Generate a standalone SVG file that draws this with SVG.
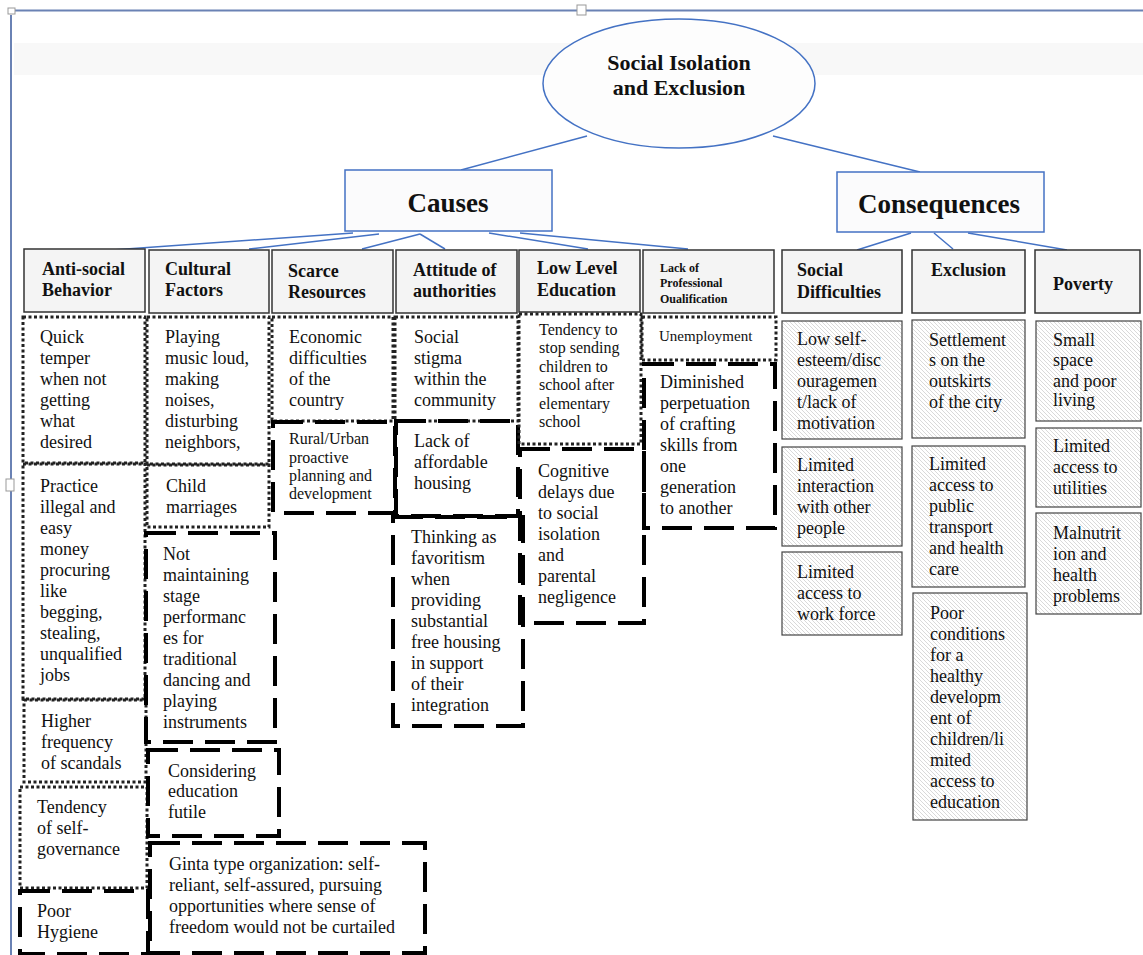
<svg xmlns="http://www.w3.org/2000/svg" width="1143" height="955" viewBox="0 0 1143 955">
<defs>
<pattern id="hatch" width="4" height="4" patternUnits="userSpaceOnUse">
<rect width="4" height="4" fill="#fff"/>
<path d="M-1,-1 L5,5 M-1,3 L1,5 M3,-1 L5,1" stroke="#c8c8c8" stroke-width="0.7"/>
</pattern>
<style>
.t{font-family:"Liberation Serif","Times New Roman",serif;font-size:18px;fill:#111}
.b{font-weight:bold}
.f12{font-size:12px}
.f15{font-size:15px}
.f16{font-size:16px}
.f22{font-size:22px}
.f27{font-size:27px}
.hdr{fill:#f4f4f4;stroke:#333;stroke-width:1.5}
.blue{fill:#fbfbfc;stroke:#4472c4;stroke-width:1.5}
.dot{fill:none;stroke:#222;stroke-width:3;stroke-dasharray:3 2.5}
.dash{fill:none;stroke:#000;stroke-width:4;stroke-dasharray:30 12}
.hat{fill:url(#hatch);stroke:#444;stroke-width:1.2}
.con{stroke:#4472c4;stroke-width:1.5;fill:none}
.frame{stroke:#6a82b4;stroke-width:2;fill:none}
.handle{fill:#fff;stroke:#999;stroke-width:1}
</style>
</defs>
<rect width="1143" height="955" fill="#fff"/>
<g id="page">
<rect x="14" y="43" width="1129" height="32" fill="#f8f8f8"/>
<path class="frame" d="M15,10.5 H1143 M11,15 V955"/>
<rect class="handle" x="8" y="8" width="7" height="6"/>
<rect class="handle" x="577" y="5" width="9" height="10"/>
<rect class="handle" x="6" y="479" width="8" height="12"/>
</g>
<g id="connectors">
<line class="con" x1="587" y1="136" x2="461" y2="170"/>
<line class="con" x1="773" y1="136" x2="920" y2="172"/>
<line class="con" x1="353" y1="233" x2="112" y2="250"/>
<line class="con" x1="379" y1="234" x2="249" y2="249"/>
<line class="con" x1="420" y1="234" x2="362" y2="249"/>
<line class="con" x1="420" y1="234" x2="445" y2="249"/>
<line class="con" x1="489" y1="233" x2="588" y2="249"/>
<line class="con" x1="520" y1="233" x2="688" y2="249"/>
<line class="con" x1="911" y1="233" x2="857" y2="250"/>
<line class="con" x1="934" y1="233" x2="953" y2="249"/>
<line class="con" x1="968" y1="233" x2="1067" y2="250"/>
</g>
<g id="root">
<ellipse cx="679" cy="83.5" rx="136" ry="64.5" fill="#fdfdfd" stroke="#4472c4" stroke-width="1.5"/>
<text class="t b f22" text-anchor="middle"><tspan x="679" y="70">Social Isolation</tspan><tspan x="679" y="95">and Exclusion</tspan></text>
</g>
<g id="causes">
<rect class="blue" x="345" y="170" width="207" height="61"/>
<text class="t b f27" x="448" y="212" text-anchor="middle">Causes</text>
</g>
<g id="consequences">
<rect class="blue" x="837" y="172" width="207" height="60"/>
<text class="t b f27" x="939" y="213" text-anchor="middle">Consequences</text>
</g>
<g id="h-antisocial"><rect class="hdr" x="24" y="249" width="121" height="63"/><text class="t b"><tspan x="42" y="275">Anti-social</tspan><tspan x="42" y="296">Behavior</tspan></text></g>
<g id="h-cultural"><rect class="hdr" x="149" y="250" width="120" height="63"/><text class="t b"><tspan x="165" y="275">Cultural</tspan><tspan x="165" y="296">Factors</tspan></text></g>
<g id="h-scarce"><rect class="hdr" x="272" y="250" width="121" height="63"/><text class="t b"><tspan x="288" y="277">Scarce</tspan><tspan x="288" y="298">Resources</tspan></text></g>
<g id="h-attitude"><rect class="hdr" x="396" y="250" width="121" height="63"/><text class="t b"><tspan x="413" y="276">Attitude of</tspan><tspan x="413" y="297">authorities</tspan></text></g>
<g id="h-education"><rect class="hdr" x="519" y="250" width="121" height="62"/><text class="t b"><tspan x="537" y="274">Low Level</tspan><tspan x="537" y="296">Education</tspan></text></g>
<g id="h-qualification"><rect class="hdr" x="643" y="250" width="131" height="63"/><text class="t b f12"><tspan x="660" y="272">Lack of</tspan><tspan x="660" y="287">Professional</tspan><tspan x="660" y="303">Oualification</tspan></text></g>
<g id="h-social"><rect class="hdr" x="782" y="250" width="120" height="63"/><text class="t b"><tspan x="797" y="276">Social</tspan><tspan x="797" y="298">Difficulties</tspan></text></g>
<g id="h-exclusion"><rect class="hdr" x="912" y="250" width="113" height="63"/><text class="t b" x="931" y="276">Exclusion</text></g>
<g id="h-poverty"><rect class="hdr" x="1035" y="250" width="105" height="63"/><text class="t b" x="1053" y="290">Poverty</text></g>

<g id="c-quick"><rect class="dot" x="23" y="317" width="122" height="146"/><text class="t"><tspan x="40" y="343">Quick</tspan><tspan x="40" y="364">temper</tspan><tspan x="40" y="385">when not</tspan><tspan x="40" y="406">getting</tspan><tspan x="40" y="427">what</tspan><tspan x="40" y="448">desired</tspan></text></g>
<g id="c-practice"><rect class="dot" x="23" y="464" width="122" height="235"/><text class="t"><tspan x="40" y="492">Practice</tspan><tspan x="40" y="513">illegal and</tspan><tspan x="40" y="534">easy</tspan><tspan x="40" y="555">money</tspan><tspan x="40" y="576">procuring</tspan><tspan x="40" y="597">like</tspan><tspan x="40" y="618">begging,</tspan><tspan x="40" y="639">stealing,</tspan><tspan x="40" y="660">unqualified</tspan><tspan x="40" y="681">jobs</tspan></text></g>
<g id="c-higher"><rect class="dot" x="24" y="700" width="122" height="82"/><text class="t"><tspan x="41" y="727">Higher</tspan><tspan x="41" y="748">frequency</tspan><tspan x="41" y="769">of scandals</tspan></text></g>
<g id="c-tendency"><rect class="dot" x="20" y="787" width="127" height="101"/><text class="t"><tspan x="37" y="813">Tendency</tspan><tspan x="37" y="834">of self-</tspan><tspan x="37" y="855">governance</tspan></text></g>
<g id="c-hygiene"><rect class="dash" x="20" y="891" width="128" height="63"/><text class="t"><tspan x="37" y="917">Poor</tspan><tspan x="37" y="938">Hygiene</tspan></text></g>

<g id="c-playing"><rect class="dot" x="147" y="317" width="122" height="147"/><text class="t"><tspan x="165" y="343">Playing</tspan><tspan x="165" y="364">music loud,</tspan><tspan x="165" y="385">making</tspan><tspan x="165" y="406">noises,</tspan><tspan x="165" y="427">disturbing</tspan><tspan x="165" y="448">neighbors,</tspan></text></g>
<g id="c-child"><rect class="dot" x="147" y="465" width="122" height="62"/><text class="t"><tspan x="166" y="492">Child</tspan><tspan x="166" y="513">marriages</tspan></text></g>
<g id="c-stage"><rect class="dash" x="146" y="533" width="129" height="209"/><text class="t"><tspan x="163" y="560">Not</tspan><tspan x="163" y="581">maintaining</tspan><tspan x="163" y="602">stage</tspan><tspan x="163" y="623">performanc</tspan><tspan x="163" y="644">es for</tspan><tspan x="163" y="665">traditional</tspan><tspan x="163" y="686">dancing and</tspan><tspan x="163" y="707">playing</tspan><tspan x="163" y="728">instruments</tspan></text></g>
<g id="c-futile"><rect class="dash" x="148" y="750" width="131" height="86"/><text class="t"><tspan x="168" y="777">Considering</tspan><tspan x="168" y="797">education</tspan><tspan x="168" y="818">futile</tspan></text></g>
<g id="c-ginta"><rect class="dash" x="150" y="843" width="275" height="110"/><text class="t"><tspan x="169" y="870">Ginta type organization: self-</tspan><tspan x="169" y="891">reliant, self-assured, pursuing</tspan><tspan x="169" y="912">opportunities where sense of</tspan><tspan x="169" y="933">freedom would not be curtailed</tspan></text></g>

<g id="c-economic"><rect class="dot" x="272" y="317" width="121" height="104"/><text class="t"><tspan x="289" y="343">Economic</tspan><tspan x="289" y="364">difficulties</tspan><tspan x="289" y="385">of the</tspan><tspan x="289" y="406">country</tspan></text></g>
<g id="c-rural"><rect class="dash" x="273" y="422" width="122" height="91"/><text class="t f16"><tspan x="289" y="444">Rural/Urban</tspan><tspan x="289" y="463">proactive</tspan><tspan x="289" y="481">planning and</tspan><tspan x="289" y="499">development</tspan></text></g>

<g id="c-stigma"><rect class="dot" x="395" y="317" width="123" height="104"/><text class="t"><tspan x="414" y="343">Social</tspan><tspan x="414" y="364">stigma</tspan><tspan x="414" y="385">within the</tspan><tspan x="414" y="406">community</tspan></text></g>
<g id="c-housing"><rect class="dash" x="396" y="421" width="122" height="95"/><text class="t"><tspan x="414" y="447">Lack of</tspan><tspan x="414" y="468">affordable</tspan><tspan x="414" y="489">housing</tspan></text></g>
<g id="c-favoritism"><rect class="dash" x="393" y="517" width="130" height="209"/><text class="t"><tspan x="411" y="543">Thinking as</tspan><tspan x="411" y="564">favoritism</tspan><tspan x="411" y="585">when</tspan><tspan x="411" y="606">providing</tspan><tspan x="411" y="627">substantial</tspan><tspan x="411" y="648">free housing</tspan><tspan x="411" y="669">in support</tspan><tspan x="411" y="690">of their</tspan><tspan x="411" y="711">integration</tspan></text></g>

<g id="c-school"><rect class="dot" x="519" y="314" width="122" height="130"/><text class="t f16"><tspan x="539" y="335">Tendency to</tspan><tspan x="539" y="353">stop sending</tspan><tspan x="539" y="372">children to</tspan><tspan x="539" y="390">school after</tspan><tspan x="539" y="409">elementary</tspan><tspan x="539" y="427">school</tspan></text></g>
<g id="c-cognitive"><rect class="dash" x="520" y="449" width="124" height="174"/><text class="t"><tspan x="538" y="477">Cognitive</tspan><tspan x="538" y="498">delays due</tspan><tspan x="538" y="519">to social</tspan><tspan x="538" y="540">isolation</tspan><tspan x="538" y="561">and</tspan><tspan x="538" y="582">parental</tspan><tspan x="538" y="603">negligence</tspan></text></g>

<g id="c-unemployment"><rect class="dot" x="642" y="317" width="134" height="43"/><text class="t f15" x="659" y="341">Unemployment</text></g>
<g id="c-crafting"><rect class="dash" x="644" y="364" width="131" height="164"/><text class="t"><tspan x="660" y="388">Diminished</tspan><tspan x="660" y="409">perpetuation</tspan><tspan x="660" y="430">of crafting</tspan><tspan x="660" y="451">skills from</tspan><tspan x="660" y="472">one</tspan><tspan x="660" y="493">generation</tspan><tspan x="660" y="514">to another</tspan></text></g>

<g id="q-esteem"><rect class="hat" x="782" y="321" width="120" height="118"/><text class="t"><tspan x="797" y="345">Low self-</tspan><tspan x="797" y="366">esteem/disc</tspan><tspan x="797" y="387">ouragemen</tspan><tspan x="797" y="408">t/lack of</tspan><tspan x="797" y="429">motivation</tspan></text></g>
<g id="q-interaction"><rect class="hat" x="782" y="447" width="120" height="99"/><text class="t"><tspan x="797" y="471">Limited</tspan><tspan x="797" y="492">interaction</tspan><tspan x="797" y="513">with other</tspan><tspan x="797" y="534">people</tspan></text></g>
<g id="q-workforce"><rect class="hat" x="782" y="552" width="120" height="83"/><text class="t"><tspan x="797" y="578">Limited</tspan><tspan x="797" y="599">access to</tspan><tspan x="797" y="620">work force</tspan></text></g>

<g id="q-settlements"><rect class="hat" x="912" y="320" width="113" height="118"/><text class="t"><tspan x="929" y="346">Settlement</tspan><tspan x="929" y="366">s on the</tspan><tspan x="929" y="387">outskirts</tspan><tspan x="929" y="408">of the city</tspan></text></g>
<g id="q-transport"><rect class="hat" x="912" y="446" width="113" height="141"/><text class="t"><tspan x="929" y="470">Limited</tspan><tspan x="929" y="491">access to</tspan><tspan x="929" y="512">public</tspan><tspan x="929" y="533">transport</tspan><tspan x="929" y="554">and health</tspan><tspan x="929" y="575">care</tspan></text></g>
<g id="q-children"><rect class="hat" x="913" y="593" width="114" height="227"/><text class="t"><tspan x="930" y="619">Poor</tspan><tspan x="930" y="640">conditions</tspan><tspan x="930" y="661">for a</tspan><tspan x="930" y="682">healthy</tspan><tspan x="930" y="703">developm</tspan><tspan x="930" y="724">ent of</tspan><tspan x="930" y="745">children/li</tspan><tspan x="930" y="766">mited</tspan><tspan x="930" y="787">access to</tspan><tspan x="930" y="808">education</tspan></text></g>

<g id="q-space"><rect class="hat" x="1036" y="321" width="105" height="100"/><text class="t"><tspan x="1053" y="346">Small</tspan><tspan x="1053" y="366">space</tspan><tspan x="1053" y="387">and poor</tspan><tspan x="1053" y="406">living</tspan></text></g>
<g id="q-utilities"><rect class="hat" x="1036" y="428" width="105" height="79"/><text class="t"><tspan x="1053" y="452">Limited</tspan><tspan x="1053" y="473">access to</tspan><tspan x="1053" y="494">utilities</tspan></text></g>
<g id="q-malnutrition"><rect class="hat" x="1036" y="513" width="105" height="101"/><text class="t"><tspan x="1053" y="539">Malnutrit</tspan><tspan x="1053" y="560">ion and</tspan><tspan x="1053" y="581">health</tspan><tspan x="1053" y="602">problems</tspan></text></g>
</svg>
